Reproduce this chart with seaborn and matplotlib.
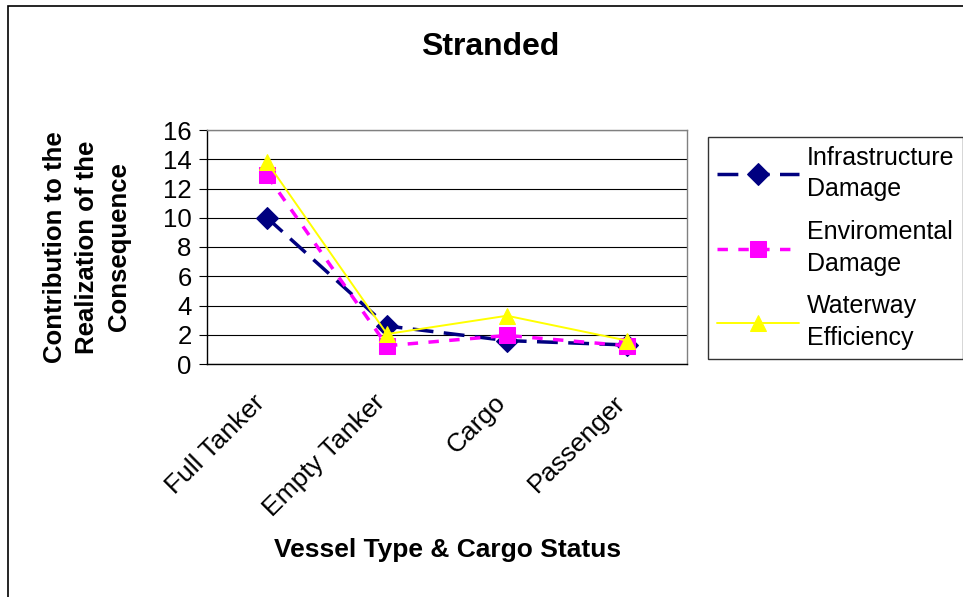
import matplotlib
matplotlib.use("Agg")
import matplotlib.pyplot as plt
import matplotlib.transforms as mtransforms
import seaborn as sns
import pandas as pd
import numpy as np

categories = ["Full Tanker", "Empty Tanker", "Cargo", "Passenger"]
infrastructure = [10.0, 2.6, 1.6, 1.3]
environmental = [12.9, 1.25, 1.95, 1.25]
waterway = [13.8, 2.05, 3.3, 1.6]
series_names = ["Infrastructure\nDamage", "Enviromental\nDamage", "Waterway\nEfficiency"]
yticks = [0, 2, 4, 6, 8, 10, 12, 14, 16]

sns.set_style("white")
plt.rcParams['font.family'] = ['Liberation Sans', 'DejaVu Sans']
plt.rcParams['text.color'] = 'black'
plt.rcParams['axes.labelcolor'] = 'black'
plt.rcParams['xtick.color'] = 'black'
plt.rcParams['ytick.color'] = 'black'

fig = plt.figure(figsize=(9.63, 5.97), dpi=100)
ax = fig.add_axes([207 / 963, 1 - 364 / 597, (687 - 207) / 963, (364 - 130) / 597])

x = np.arange(len(categories))
styles = [
    dict(color="#000080", marker="D", markersize=11, linestyle=(0, (6, 3)), linewidth=2.5),
    dict(color="#FF00FF", marker="s", markersize=12, linestyle=(0, (3, 3)), linewidth=2.5),
    dict(color="#FFFF00", marker="^", markersize=11, linestyle="-", linewidth=1.4),
]
for vals, name, st in zip([infrastructure, environmental, waterway], series_names, styles):
    df = pd.DataFrame({"x": x, "y": vals})
    sns.lineplot(data=df, x="x", y="y", ax=ax, label=name, color=st["color"],
                 marker=st["marker"], markersize=st["markersize"], markeredgecolor=st["color"],
                 linestyle=st["linestyle"], linewidth=st["linewidth"])

ax.set_xlabel("")
ax.set_ylabel("")
ax.set_xlim(-0.5, len(categories) - 0.5)
ax.set_ylim(0, 16)
ax.set_yticks(yticks)
ax.set_yticklabels([str(v) for v in yticks], fontsize=18.5)
ax.yaxis.grid(True, color="#000000", linewidth=0.8)
ax.set_xticks(x)
ax.set_xticks(np.arange(-0.5, len(categories), 1.0), minor=True)
ax.tick_params(axis="x", which="major", length=0, pad=19)
ax.tick_params(axis="x", which="minor", length=6, direction="out", color="black")
ax.tick_params(axis="y", which="major", length=6, direction="out", color="black", left=True, pad=5)
ax.set_xticklabels(categories, rotation=45, ha="right", rotation_mode="anchor", fontsize=19)
shift = mtransforms.ScaledTranslation(-14 / 100, 0, fig.dpi_scale_trans)
for lbl in ax.get_xticklabels():
    lbl.set_transform(lbl.get_transform() + shift)
for s in ["top", "right"]:
    ax.spines[s].set_color("#808080")
for s in ["left", "bottom"]:
    ax.spines[s].set_color("#000000")
for s in ax.spines.values():
    s.set_linewidth(1.0)

fig.text(490 / 963, 1 - 47 / 597, "Stranded", fontsize=23, fontweight="bold",
         ha="center", va="center")
fig.text(448 / 963, 1 - 550 / 597, "Vessel Type & Cargo Status", fontsize=19,
         fontweight="bold", ha="center", va="center")
fig.text(87 / 963, 1 - 247 / 597, "Contribution to the\nRealization of the\nConsequence",
         fontsize=18.5, fontweight="bold", ha="center", va="center", rotation=90,
         linespacing=1.42)

leg = ax.legend(loc="upper left", fontsize=18, frameon=True, fancybox=False, edgecolor="black",
                handlelength=3.3, labelspacing=0.75, borderpad=0.35, handletextpad=0.3,
                borderaxespad=0)
for t in leg.get_texts():
    t.set_linespacing(1.4)
leg.get_frame().set_linewidth(1.0)
leg.set_bbox_to_anchor((708 / 963, 1 - 137 / 597), transform=fig.transFigure)

fig.patches.append(plt.Rectangle((8 / 963, -0.05), 1.1, 1.05 - 6 / 597, transform=fig.transFigure,
                                 fill=False, edgecolor="black", linewidth=1.2))
fig.savefig("out.png", dpi=100)
